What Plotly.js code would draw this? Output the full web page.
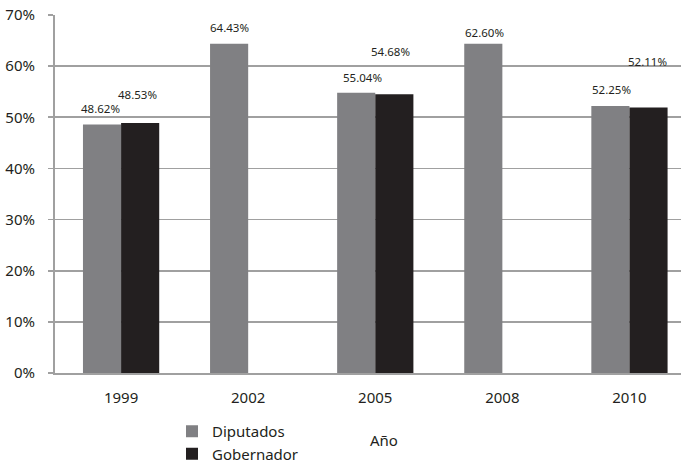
<!DOCTYPE html>
<html>
<head>
<meta charset="utf-8">
<script src="https://cdn.plot.ly/plotly-3.0.1.min.js"></script>
<style>
html,body{margin:0;padding:0;overflow:hidden;background:#fff;}
#chart{width:693px;height:462px;}
</style>
</head>
<body>
<div id="chart"></div>
<script>
// ---- data ----
const years = ['1999', '2002', '2005', '2008', '2010'];
const diputados = [48.6, 64.4, 54.8, 64.4, 52.2];
const gobernador = [48.9, null, 54.5, null, 51.9];
const diputadosLabels = ['48.62%', '64.43%', '55.04%', '62.60%', '52.25%'];
const gobernadorLabels = ['48.53%', '', '54.68%', '', '52.11%'];
const yTicks = [0, 10, 20, 30, 40, 50, 60, 70];
const yTickLabels = ['0%', '10%', '20%', '30%', '40%', '50%', '60%', '70%'];

const FONT = 'Noto Sans, Open Sans, sans-serif';
const TXT = '#231f20';
const W = 693, H = 462;
const ML = 55, MT = 15, MB = 89;
const PW = W - ML, PH = H - MT - MB;

const traces = [
  {type: 'bar', name: 'Diputados', x: years, y: diputados,
   marker: {color: '#808083'}, hoverinfo: 'skip'},
  {type: 'bar', name: 'Gobernador', x: years, y: gobernador,
   marker: {color: '#231f20'}, hoverinfo: 'skip'}
];

// label placement (pixel offsets relative to each bar's top)
const dipOff = [[-2, 16], [0, 16], [6, 15], [1, 11], [1, 17]];
const gobOff = [[-3, 28], [0, 0], [-4, 43], [0, 0], [-1, 46]];
const half = 19;
const annotations = [];
years.forEach((yr, i) => {
  if (diputadosLabels[i]) annotations.push({
    x: i, y: diputados[i], xref: 'x', yref: 'y', text: diputadosLabels[i],
    showarrow: false, xshift: -half + dipOff[i][0], yshift: dipOff[i][1],
    xanchor: 'center', yanchor: 'middle', font: {family: FONT, size: 11.5, color: TXT}
  });
  if (gobernadorLabels[i]) annotations.push({
    x: i, y: gobernador[i], xref: 'x', yref: 'y', text: gobernadorLabels[i],
    showarrow: false, xshift: half + gobOff[i][0], yshift: gobOff[i][1],
    xanchor: 'center', yanchor: 'middle', font: {family: FONT, size: 11.5, color: TXT}
  });
});
annotations.push({
  text: 'Año', xref: 'paper', yref: 'paper', x: (384 - ML) / PW, y: -(440 - 373) / PH,
  xanchor: 'center', yanchor: 'middle', showarrow: false,
  font: {family: FONT, size: 15, color: TXT}
});

const layout = {
  width: W, height: H,
  margin: {l: ML, r: 0, t: MT, b: MB, autoexpand: false},
  paper_bgcolor: '#fff', plot_bgcolor: '#fff',
  font: {family: FONT, size: 15, color: TXT},
  barmode: 'group', bargap: 0.4, bargroupgap: 0,
  showlegend: true,
  legend: {
    orientation: 'v', xref: 'paper', yref: 'paper',
    x: (172 - ML) / PW, y: -(415 - 373) / PH, xanchor: 'left', yanchor: 'top',
    font: {family: FONT, size: 15, color: TXT}, tracegroupgap: 0,
    bgcolor: 'rgba(0,0,0,0)'
  },
  xaxis: {
    type: 'category', range: [-0.52, 4.5], autorange: false,
    showgrid: false, zeroline: false, automargin: false,
    showline: true, linecolor: '#a0a0a0', linewidth: 2,
    ticks: '', ticklabelstandoff: 10,
    tickfont: {family: FONT, size: 15, color: TXT}, fixedrange: true
  },
  yaxis: {
    range: [0, 70], autorange: false, tickvals: yTicks, ticktext: yTickLabels,
    showgrid: true, gridcolor: '#a0a0a0', gridwidth: 1.7, automargin: false,
    zeroline: false, showline: true, linecolor: '#a0a0a0', linewidth: 2,
    ticks: 'outside', ticklen: 5, tickcolor: '#a0a0a0', tickwidth: 1.7,
    ticklabelstandoff: 10,
    tickfont: {family: FONT, size: 15, color: TXT}, fixedrange: true
  },
  annotations: annotations
};

Plotly.newPlot('chart', traces, layout, {staticPlot: true, displayModeBar: false});
</script>
</body>
</html>
